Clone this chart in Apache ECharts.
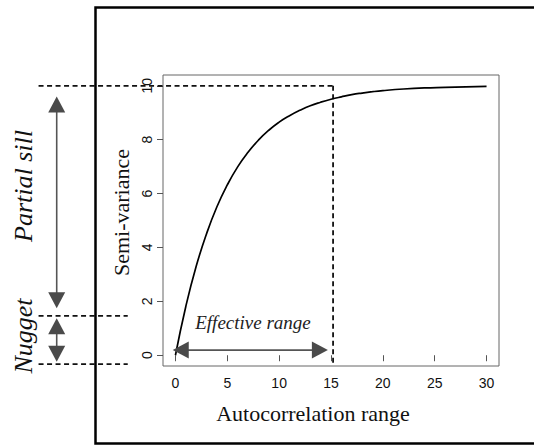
<!DOCTYPE html>
<html>
<head>
<meta charset="utf-8">
<script src="https://cdn.jsdelivr.net/npm/echarts@6/dist/echarts.min.js"></script>
<style>
  html, body { margin: 0; padding: 0; background: #fff; }
  #main { width: 534px; height: 445px; }
</style>
</head>
<body>
<div id="main"></div>
<script>
  // semivariogram curve
  var lagX = [0, 1, 2, 3, 4, 5, 6, 7, 8, 9, 10, 11, 12, 13, 14, 15, 16, 17, 18, 19, 20, 22, 24, 26, 28, 30];
  var semiVar = [0, 1.81, 3.30, 4.51, 5.51, 6.32, 6.99, 7.53, 7.98, 8.35, 8.65, 8.89, 9.09, 9.26, 9.39,
                 9.50, 9.59, 9.67, 9.73, 9.78, 9.82, 9.88, 9.92, 9.94, 9.96, 9.98];
  var xTicks = [0, 5, 10, 15, 20, 25, 30];

  // annotation values
  var sill = 10;
  var nugget = 1.46;
  var baseLevel = -0.33;
  var effectiveRange = 15.2;
  var guideLeft = -13.2;   // left end of the dashed guides (outside plot)
  var guideStub = -4.6;    // right end of the short nugget guides
  var arrowX = -11.45;
  // dashed guides [x1, y1, x2, y2]
  var guideSegs = [
    [guideLeft, sill, effectiveRange, sill],
    [effectiveRange, sill, effectiveRange, -0.4],
    [guideLeft, nugget, guideStub, nugget],
    [guideLeft, baseLevel, guideStub, baseLevel]
  ];
  // double arrows [x1, y1, x2, y2] (tips)
  var arrowSegs = [
    [arrowX, 9.6, arrowX, 1.74],
    [arrowX, 1.37, arrowX, -0.24],
    [-0.26, 0.19, 14.7, 0.19]
  ];

  var serif = 'Liberation Serif';
  var sans = 'Liberation Sans';

  var myChart = echarts.init(document.getElementById('main'), null, { renderer: 'svg' });

  function renderGuide(params, api) {
    var a = api.coord([api.value(0), api.value(1)]);
    var b = api.coord([api.value(2), api.value(3)]);
    return {
      type: 'line',
      shape: { x1: a[0], y1: a[1], x2: b[0], y2: b[1] },
      style: { stroke: '#111', lineWidth: 1.8, lineDash: [5, 3.5] }
    };
  }

  function renderArrow(params, api) {
    var a = api.coord([api.value(0), api.value(1)]);
    var b = api.coord([api.value(2), api.value(3)]);
    var dx = b[0] - a[0], dy = b[1] - a[1];
    var len = Math.sqrt(dx * dx + dy * dy);
    var ux = dx / len, uy = dy / len, nx = -uy, ny = ux;
    var L = 16, W = 8.5;
    function head(tip, sx, sy) {
      var bx = tip[0] - sx * L, by = tip[1] - sy * L;
      return {
        type: 'polygon',
        shape: { points: [tip, [bx + nx * W, by + ny * W], [bx - nx * W, by - ny * W]] },
        style: { fill: '#4a4a4a' }
      };
    }
    return {
      type: 'group',
      children: [
        { type: 'line',
          shape: { x1: a[0] + ux * (L - 2), y1: a[1] + uy * (L - 2), x2: b[0] - ux * (L - 2), y2: b[1] - uy * (L - 2) },
          style: { stroke: '#555', lineWidth: 1.6 } },
        head(a, -ux, -uy),
        head(b, ux, uy)
      ]
    };
  }

  var option = {
    animation: false,
    grid: [
      { left: 163, top: 75, width: 336, height: 291, show: true, borderColor: '#666', borderWidth: 1 },
      // same box, trimmed to the 0..10 span so the y ticks can start at 0
      { left: 163, top: 85.78, width: 336, height: 269.44, show: false }
    ],
    xAxis: [
      {
        type: 'value',
        min: -1.2,
        max: 31.2,
        axisLine: { show: false },
        splitLine: { show: false },
        axisTick: { show: true, length: 6, customValues: xTicks, lineStyle: { color: '#555' } },
        axisLabel: { customValues: xTicks, margin: 10, fontFamily: sans, fontSize: 14, color: '#111' },
        name: 'Autocorrelation range',
        nameLocation: 'middle',
        nameGap: 36,
        nameTextStyle: { fontFamily: serif, fontSize: 22, color: '#111', padding: [0, 36, 0, 0] }
      },
      { type: 'value', gridIndex: 1, min: 0, max: 30, show: false }
    ],
    yAxis: [
      {
        type: 'value',
        min: -0.4,
        max: 10.4,
        axisLine: { show: false },
        axisTick: { show: false },
        axisLabel: { show: false },
        splitLine: { show: false }
      },
      {
        type: 'value',
        gridIndex: 1,
        min: 0,
        max: 10,
        interval: 2,
        axisLine: { show: false },
        splitLine: { show: false },
        axisTick: { show: true, length: 6, lineStyle: { color: '#555' } },
        axisLabel: { rotate: 90, margin: 9, fontFamily: sans, fontSize: 14, color: '#111' },
        name: 'Semi-variance',
        nameLocation: 'middle',
        nameRotate: 90,
        nameGap: 29,
        nameTextStyle: { fontFamily: serif, fontSize: 22, color: '#111', padding: [0, 0, 0, 16] }
      }
    ],
    series: [
      {
        type: 'line',
        data: lagX.map(function (x, i) { return [x, semiVar[i]]; }),
        smooth: true,
        showSymbol: false,
        lineStyle: { color: '#000', width: 1.7 },
        z: 5
      },
      {
        type: 'custom',
        clip: false,
        renderItem: renderGuide,
        encode: { x: [0, 2], y: [1, 3] },
        data: guideSegs,
        z: 4
      },
      {
        type: 'custom',
        clip: false,
        renderItem: renderArrow,
        encode: { x: [0, 2], y: [1, 3] },
        data: arrowSegs,
        z: 6
      }
    ],
    graphic: [
      { type: 'rect', shape: { x: 95.5, y: 7.5, width: 460, height: 436 },
        style: { fill: 'none', stroke: '#000', lineWidth: 2.5 }, z: 10 },
      { type: 'text', x: 23, y: 186, rotation: Math.PI / 2,
        style: { text: 'Partial sill', font: 'italic 26px "Liberation Serif"', fill: '#111', align: 'center', verticalAlign: 'middle' } },
      { type: 'text', x: 23, y: 336, rotation: Math.PI / 2,
        style: { text: 'Nugget', font: 'italic 26px "Liberation Serif"', fill: '#111', align: 'center', verticalAlign: 'middle' } },
      { type: 'text', x: 253, y: 332,
        style: { text: 'Effective range', font: 'italic 19px "Liberation Serif"', fill: '#222', align: 'center', verticalAlign: 'bottom' } }
    ]
  };

  myChart.setOption(option);
</script>
</body>
</html>
